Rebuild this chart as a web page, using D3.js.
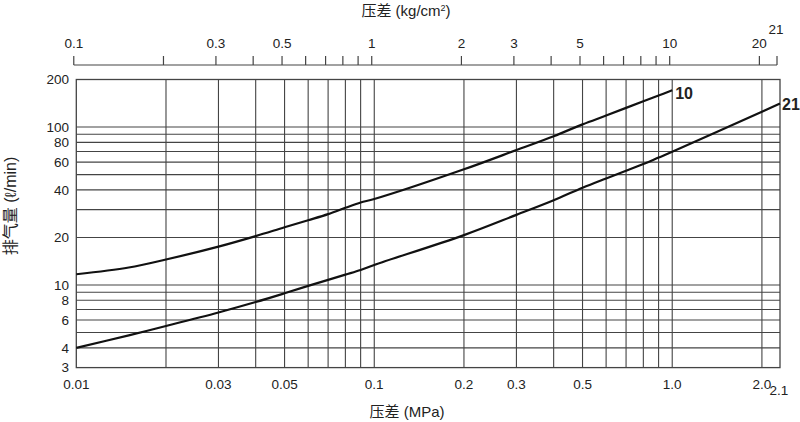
<!DOCTYPE html>
<html>
<head>
<meta charset="utf-8">
<script src="https://cdn.jsdelivr.net/npm/d3@7"></script>
<style>
  body { margin: 0; background: #fff; }
  text { font-family: "Liberation Sans", Arial, "Noto Sans CJK SC", sans-serif; fill: #222; }
</style>
</head>
<body>
<svg id="chart" width="800" height="422"></svg>
<script>
// pressure difference (MPa) where the curves were read
const pressure10 = [0.01, 0.015, 0.02, 0.03, 0.04, 0.05, 0.06, 0.07, 0.08, 0.09, 0.1, 0.2, 0.3, 0.4, 0.5, 0.6, 0.7, 0.8, 0.9, 1.0];
const flow10 = [11.7, 12.9, 14.5, 17.5, 20.4, 23.2, 25.7, 28.1, 30.8, 33.3, 35.0, 54.0, 71.5, 87.5, 104, 118.3, 132.3, 145.7, 158.3, 171];

const pressure21 = [0.01, 0.015, 0.02, 0.03, 0.04, 0.05, 0.06, 0.07, 0.08, 0.09, 0.1, 0.2, 0.3, 0.4, 0.5, 0.6, 0.7, 0.8, 0.9, 1.0, 2.0, 2.3];
const flow21 = [4.0, 4.8, 5.5, 6.7, 7.8, 8.86, 9.87, 10.78, 11.63, 12.44, 13.4, 20.7, 27.8, 34.4, 41.3, 47.3, 52.9, 58.4, 64.1, 69.7, 125, 141];

// axis ticks
const xGrid = [0.02, 0.03, 0.04, 0.05, 0.06, 0.07, 0.08, 0.09, 0.1, 0.2, 0.3, 0.4, 0.5, 0.6, 0.7, 0.8, 0.9, 1.0, 2.0];
const xLabels = [0.01, 0.03, 0.05, 0.1, 0.2, 0.3, 0.5, 1.0, 2.0];
const xLabelText = ['0.01', '0.03', '0.05', '0.1', '0.2', '0.3', '0.5', '1.0', '2.0'];
const yGrid = [4, 5, 6, 7, 8, 9, 10, 20, 30, 40, 50, 60, 70, 80, 90, 100];
const yLabels = [3, 4, 6, 8, 10, 20, 40, 60, 80, 100, 200];
const kgTicks = [0.1, 0.2, 0.3, 0.4, 0.5, 0.6, 0.7, 0.8, 0.9, 1, 2, 3, 4, 5, 6, 7, 8, 9, 10, 20];
const kgLabels = [0.1, 0.3, 0.5, 1, 2, 3, 5, 10, 20];
const KG = 0.0980665; // 1 kg/cm2 in MPa

const svg = d3.select('#chart');
const gridColor = '#444';

// scales
const x = d3.scaleLog().domain([0.01, 2.3]).range([76.3, 780]);
const y = d3.scaleLog().domain([3, 200]).range([367.6, 79.5]);
const [x0, x1] = x.range();
const [yb, yt] = y.range();

// grid lines
svg.append('g').selectAll('line')
    .data(xGrid)
    .enter().append('line')
        .attr('x1', d => x(d)).attr('x2', d => x(d))
        .attr('y1', yt).attr('y2', yb)
        .attr('stroke', gridColor).attr('stroke-width', 1.1);

svg.append('g').selectAll('line')
    .data(yGrid)
    .enter().append('line')
        .attr('x1', x0).attr('x2', x1)
        .attr('y1', d => y(d)).attr('y2', d => y(d))
        .attr('stroke', gridColor).attr('stroke-width', 1.1);

// frame
svg.append('rect')
    .attr('x', x0).attr('y', yt)
    .attr('width', x1 - x0).attr('height', yb - yt)
    .attr('fill', 'none').attr('stroke', gridColor).attr('stroke-width', 1.3);

// curves
const line = d3.line()
    .x(d => x(d[0]))
    .y(d => y(d[1]))
    .curve(d3.curveCatmullRom.alpha(0.5));

svg.append('path')
    .datum(pressure10.map((p, i) => [p, flow10[i]]))
    .attr('d', line)
    .attr('fill', 'none').attr('stroke', '#111').attr('stroke-width', 2.2);

svg.append('path')
    .datum(pressure21.map((p, i) => [p, flow21[i]]))
    .attr('d', line)
    .attr('fill', 'none').attr('stroke', '#111').attr('stroke-width', 2.2);

// curve labels
svg.append('text')
    .attr('x', x(pressure10[pressure10.length - 1]) + 3)
    .attr('y', y(flow10[flow10.length - 1]) + 3)
    .attr('dy', '0.35em')
    .attr('font-size', 16).attr('font-weight', 'bold')
    .text('10');

svg.append('text')
    .attr('x', x(pressure21[pressure21.length - 1]) + 2)
    .attr('y', y(flow21[flow21.length - 1]) + 1)
    .attr('dy', '0.35em')
    .attr('font-size', 16).attr('font-weight', 'bold')
    .text('21');

// y tick labels
svg.append('g').selectAll('text')
    .data(yLabels)
    .enter().append('text')
        .attr('x', 69)
        .attr('y', d => y(d))
        .attr('dy', '0.36em')
        .attr('text-anchor', 'end')
        .attr('font-size', 13.5)
        .text(d => d);

// bottom tick labels
svg.append('g').selectAll('text')
    .data(xLabels)
    .enter().append('text')
        .attr('x', d => x(d))
        .attr('y', 389)
        .attr('text-anchor', 'middle')
        .attr('font-size', 13.5)
        .text((d, i) => xLabelText[i]);

svg.append('text')
    .attr('x', x1 - 1).attr('y', 395)
    .attr('text-anchor', 'middle')
    .attr('font-size', 13.5)
    .text('2.1');

// top axis in kg/cm2
const topY = 65;
const topEnd = x1 - 3;
const topAxis = svg.append('g');

topAxis.append('line')
    .attr('x1', x(0.1 * KG)).attr('x2', topEnd)
    .attr('y1', topY).attr('y2', topY)
    .attr('stroke', gridColor).attr('stroke-width', 1.2);

topAxis.selectAll('.tick')
    .data(kgTicks)
    .enter().append('line')
        .attr('class', 'tick')
        .attr('x1', d => x(d * KG)).attr('x2', d => x(d * KG))
        .attr('y1', topY).attr('y2', topY - 9)
        .attr('stroke', gridColor).attr('stroke-width', 1.2);

topAxis.append('line')
    .attr('x1', topEnd).attr('x2', topEnd)
    .attr('y1', topY).attr('y2', topY - 9)
    .attr('stroke', gridColor).attr('stroke-width', 1.2);

topAxis.selectAll('.lbl')
    .data(kgLabels)
    .enter().append('text')
        .attr('class', 'lbl')
        .attr('x', d => x(d * KG))
        .attr('y', 48)
        .attr('text-anchor', 'middle')
        .attr('font-size', 13.5)
        .text(d => d);

topAxis.append('text')
    .attr('x', topEnd - 1).attr('y', 34)
    .attr('text-anchor', 'middle')
    .attr('font-size', 13.5)
    .text('21');

// axis titles
const topTitle = svg.append('text')
    .attr('x', 406).attr('y', 16)
    .attr('text-anchor', 'middle')
    .attr('font-size', 15);
topTitle.append('tspan').text('压差 (kg/cm');
topTitle.append('tspan').attr('font-size', 9).attr('dy', -5).text('2');
topTitle.append('tspan').attr('dy', 5).text(')');

svg.append('text')
    .attr('x', 407).attr('y', 417)
    .attr('text-anchor', 'middle')
    .attr('font-size', 15)
    .text('压差 (MPa)');

svg.append('text')
    .attr('transform', 'translate(16,206) rotate(-90)')
    .attr('text-anchor', 'middle')
    .attr('font-size', 16)
    .text('排气量 (ℓ/min)');
</script>
</body>
</html>
